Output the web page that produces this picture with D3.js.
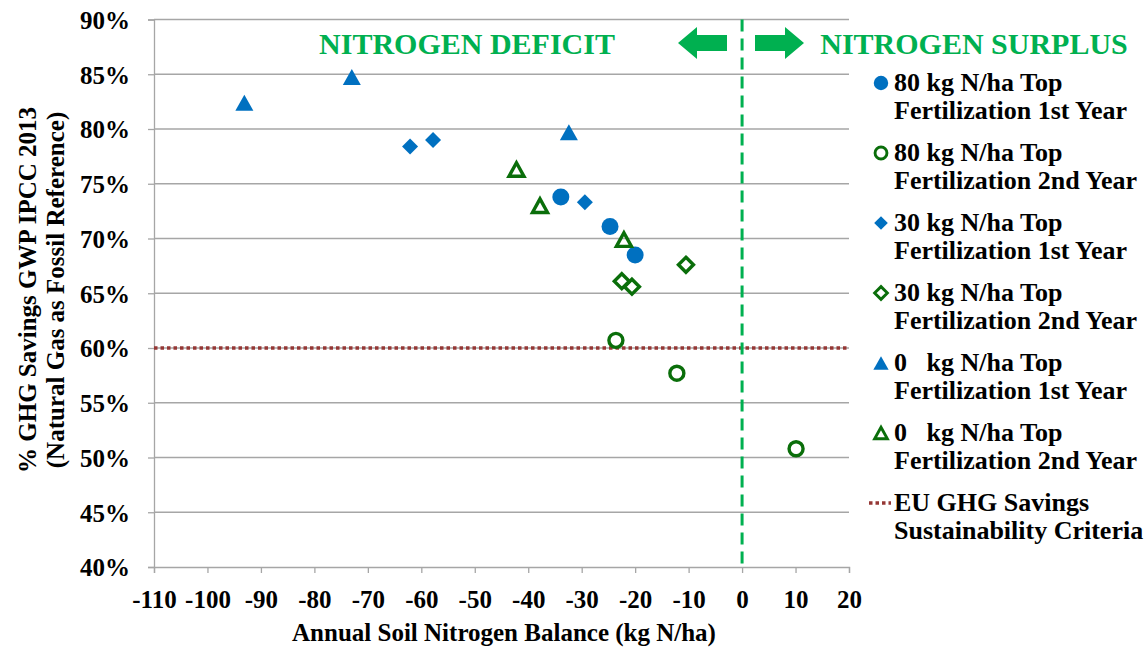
<!DOCTYPE html>
<html>
<head>
<meta charset="utf-8">
<script src="https://cdn.jsdelivr.net/npm/d3@7"></script>
<style>
  html, body { margin: 0; padding: 0; background: #fff; }
  #chart { font-family: "Liberation Serif", serif; font-weight: bold; }
</style>
</head>
<body>
<svg id="chart" width="1146" height="649"></svg>
<script>
// Annual soil nitrogen balance (kg N/ha) vs. GHG savings (%) per fertilization scenario
const series80y1 = [[-33.9, 73.8], [-24.7, 71.1], [-20.0, 68.5]];
const series80y2 = [[-23.6, 60.7], [-12.2, 57.7], [10.1, 50.8]];
const series30y1 = [[-62.1, 78.4], [-57.8, 79.0], [-29.4, 73.3]];
const series30y2 = [[-22.5, 66.1], [-20.6, 65.6], [-10.5, 67.6]];
const series0y1  = [[-93.1, 82.4], [-73.0, 84.75], [-32.4, 79.7]];
const series0y2  = [[-42.2, 76.3], [-37.8, 73.0], [-22.1, 69.9]];
const euThreshold = 60;

const xTicks = [-110, -100, -90, -80, -70, -60, -50, -40, -30, -20, -10, 0, 10, 20];
const yTicks = [40, 45, 50, 55, 60, 65, 70, 75, 80, 85, 90];

const legendLabels = [
  ["80 kg N/ha Top", "Fertilization 1st Year"],
  ["80 kg N/ha Top", "Fertilization 2nd Year"],
  ["30 kg N/ha Top", "Fertilization 1st Year"],
  ["30 kg N/ha Top", "Fertilization 2nd Year"],
  ["0   kg N/ha Top", "Fertilization 1st Year"],
  ["0   kg N/ha Top", "Fertilization 2nd Year"],
  ["EU GHG Savings", "Sustainability Criteria"]
];

const BLUE = "#0070C0", DKGREEN = "#0A6E0A", BRIGHT = "#00B050", RED = "#953735";
const FAMILY = "'Liberation Serif', 'Times New Roman', serif";

const seriesDefs = [
  { data: series80y1, shape: "circle",   filled: true,  color: BLUE },
  { data: series80y2, shape: "circle",   filled: false, color: DKGREEN },
  { data: series30y1, shape: "diamond",  filled: true,  color: BLUE },
  { data: series30y2, shape: "diamond",  filled: false, color: DKGREEN },
  { data: series0y1,  shape: "triangle", filled: true,  color: BLUE },
  { data: series0y2,  shape: "triangle", filled: false, color: DKGREEN }
];

const svg = d3.select("#chart");
const plotLeft = 154, plotRight = 849, plotTop = 19.5, plotBottom = 567;

function styleText(sel, size) {
  return sel.attr("xml:space", "preserve")
    .style("font-family", FAMILY).style("font-weight", "bold")
    .style("font-size", size + "px");
}

// text is laid out start-anchored; centre / right alignment is done by measuring
function alignNode(node, baseX, anchor) {
  const w = node.getComputedTextLength();
  const shift = anchor === "end" ? w : anchor === "middle" ? w / 2 : 0;
  d3.select(node).attr("x", baseX - shift);
}

const x = d3.scaleLinear().domain([-110, 20]).range([plotLeft, plotRight]);
const y = d3.scaleLinear().domain([40, 90]).range([plotBottom, plotTop]);

// horizontal gridlines
svg.append("g").selectAll("line").data(yTicks.filter(d => d > 40)).join("line")
  .attr("x1", plotLeft).attr("x2", plotRight)
  .attr("y1", d => y(d)).attr("y2", d => y(d))
  .attr("stroke", "#a6a6a6").attr("stroke-width", 1.3);

// axes
const yAxis = svg.append("g").attr("transform", `translate(${plotLeft},0)`)
  .call(d3.axisLeft(y).tickValues(yTicks).tickSize(6).tickPadding(18).tickFormat(d => d + "%"));
const xAxis = svg.append("g").attr("transform", `translate(0,${plotBottom})`)
  .call(d3.axisBottom(x).tickValues(xTicks).tickSize(6).tickFormat(d => String(d)));
[yAxis, xAxis].forEach(g => {
  g.attr("font-family", null).attr("font-size", null).attr("text-anchor", null);
  g.select(".domain").attr("stroke", "#a6a6a6").attr("stroke-width", 1.3);
  g.selectAll(".tick line").attr("stroke", "#a6a6a6").attr("stroke-width", 1.3);
  styleText(g.selectAll(".tick text").attr("fill", "#000"), 25);
});
yAxis.selectAll(".tick text").attr("dy", "0.35em").each(function () { alignNode(this, -24, "end"); });
xAxis.selectAll(".tick text").attr("y", 41).attr("dy", 0).each(function () { alignNode(this, 0, "middle"); });

// EU threshold line
svg.append("line")
  .attr("x1", plotLeft).attr("x2", plotRight)
  .attr("y1", y(euThreshold)).attr("y2", y(euThreshold))
  .attr("stroke", RED).attr("stroke-width", 3.5).attr("stroke-dasharray", "3.5,3");

// zero balance divider
svg.append("line")
  .attr("x1", x(0)).attr("x2", x(0))
  .attr("y1", plotTop).attr("y2", plotBottom)
  .attr("stroke", BRIGHT).attr("stroke-width", 3).attr("stroke-dasharray", "12,7");

// region labels and arrows
const deficit = styleText(svg.append("text").attr("y", 54).attr("fill", BRIGHT), 30).text("NITROGEN DEFICIT");
alignNode(deficit.node(), 467, "middle");
const surplus = styleText(svg.append("text").attr("y", 54).attr("fill", BRIGHT), 30).text("NITROGEN SURPLUS");
alignNode(surplus.node(), 974, "middle");

function arrowPath(x0, x1, yc, dir) {
  // block arrow: shaft height 16, head height 32, head length 19
  const head = 19, sh = 8, hh = 16;
  if (dir > 0) {
    const xh = x1 - head;
    return `M${x0},${yc - sh}L${xh},${yc - sh}L${xh},${yc - hh}L${x1},${yc}L${xh},${yc + hh}L${xh},${yc + sh}L${x0},${yc + sh}Z`;
  }
  const xh = x0 + head;
  return `M${x1},${yc - sh}L${xh},${yc - sh}L${xh},${yc - hh}L${x0},${yc}L${xh},${yc + hh}L${xh},${yc + sh}L${x1},${yc + sh}Z`;
}
svg.append("path").attr("d", arrowPath(678, 727, 43, -1)).attr("fill", BRIGHT);
svg.append("path").attr("d", arrowPath(755, 804, 43, 1)).attr("fill", BRIGHT);

// marker drawing
function drawMarker(g, shape, filled, color, scale) {
  const s = scale || 1;
  const sw = 3.4 * s;
  let el;
  if (shape === "circle") {
    el = g.append("circle").attr("r", filled ? 8.5 * s : 7 * s);
  } else if (shape === "diamond") {
    const r = filled ? 8 * s : 7.5 * s;
    el = g.append("path").attr("d", `M0,${-r}L${r},0L0,${r}L${-r},0Z`);
  } else {
    const w = filled ? 9 * s : 7.5 * s, h = filled ? 8 * s : 6.8 * s;
    el = g.append("path").attr("d", `M0,${-h}L${w},${h}L${-w},${h}Z`);
  }
  if (filled) el.attr("fill", color);
  else el.attr("fill", "none").attr("stroke", color).attr("stroke-width", sw).attr("stroke-linejoin", "miter");
}

const pts = svg.append("g");
seriesDefs.forEach(s => {
  s.data.forEach(d => {
    const g = pts.append("g").attr("transform", `translate(${x(d[0])},${y(d[1])})`);
    drawMarker(g, s.shape, s.filled, s.color, 1);
  });
});

// legend
const legend = svg.append("g");
const lx = 881, ly0 = 83, lstep = 70, tx = 894;
legendLabels.forEach((lab, i) => {
  const yy = ly0 + i * lstep;
  const g = legend.append("g").attr("transform", `translate(${lx},${yy})`);
  if (i < seriesDefs.length) {
    drawMarker(g, seriesDefs[i].shape, seriesDefs[i].filled, seriesDefs[i].color, 0.85);
  } else {
    g.append("line").attr("x1", -12).attr("x2", 10).attr("y1", 0).attr("y2", 0)
      .attr("stroke", RED).attr("stroke-width", 3.5).attr("stroke-dasharray", "3.5,3");
  }
  const t = styleText(legend.append("text").attr("x", tx).attr("y", yy + 8).attr("fill", "#000"), 26);
  t.append("tspan").attr("x", tx).text(lab[0]);
  t.append("tspan").attr("x", tx).attr("dy", 28).text(lab[1]);
});

// axis titles
const xTitle = styleText(svg.append("text").attr("y", 641).attr("fill", "#000"), 25)
  .text("Annual Soil Nitrogen Balance (kg N/ha)");
alignNode(xTitle.node(), 504, "middle");

const yt = styleText(svg.append("text").attr("transform", "translate(36,290) rotate(-90)")
  .attr("fill", "#000"), 25);
const yLine1 = yt.append("tspan").attr("x", 0).attr("dy", 0).text("% GHG Savings GWP IPCC 2013");
const yLine2 = yt.append("tspan").attr("x", 0).attr("dy", 28).text("(Natural Gas as Fossil Reference)");
[yLine1, yLine2].forEach(tsp => alignNode(tsp.node(), 0, "middle"));
</script>
</body>
</html>
